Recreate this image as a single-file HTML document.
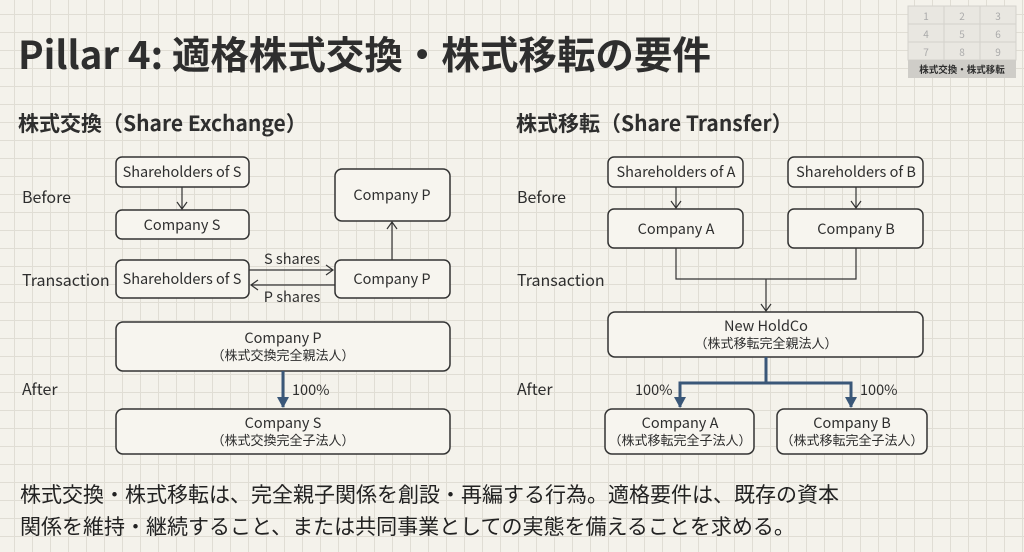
<!DOCTYPE html>
<html><head><meta charset="utf-8"><style>
html,body{margin:0;padding:0}
body{width:1024px;height:552px;overflow:hidden;background-color:#f4f2eb;
background-image:linear-gradient(#e0ddd4 1px,transparent 1px),linear-gradient(90deg,#e0ddd4 1px,transparent 1px);
background-size:18px 18px;background-position:-4px -4px;font-family:"Liberation Sans","Noto Sans CJK JP",sans-serif}
svg{position:absolute;left:0;top:0}
text{font-family:"Noto Sans CJK JP","Liberation Sans",sans-serif;fill:#2e2e2e}
.b rect{fill:#f7f5ef;stroke:#333;stroke-width:1.5}
.n{font-size:14.5px;text-anchor:middle}
.l{font-size:16px}
</style></head><body>
<svg width="1024" height="552" viewBox="0 0 1024 552">
<defs>
<marker id="a" markerWidth="12" markerHeight="12" refX="9" refY="6" orient="auto" markerUnits="userSpaceOnUse"><path d="M2,1 L9,6 L2,11" fill="none" stroke="#333" stroke-width="1.2"/></marker>
<marker id="t" markerWidth="12" markerHeight="12" refX="10" refY="6" orient="auto" markerUnits="userSpaceOnUse"><path d="M0,0 L11,6 L0,12 z" fill="#3a5778"/></marker>
</defs>
<rect x="908" y="6" width="108" height="54" fill="#e9e7e1" stroke="#d4d2cc"/>
<path d="M944 6V60M980 6V60M908 24H1016M908 42H1016" stroke="#d4d2cc"/>
<rect x="908" y="60" width="108" height="18" fill="#cfcdc8"/>
<g font-size="10" text-anchor="middle"><text x="926" y="20" style="fill:#aaa">1</text><text x="962" y="20" style="fill:#aaa">2</text><text x="998" y="20" style="fill:#aaa">3</text><text x="926" y="38" style="fill:#aaa">4</text><text x="962" y="38" style="fill:#aaa">5</text><text x="998" y="38" style="fill:#aaa">6</text><text x="926" y="56" style="fill:#aaa">7</text><text x="962" y="56" style="fill:#aaa">8</text><text x="998" y="56" style="fill:#aaa">9</text></g>
<text x="962" y="73" font-size="9.5" font-weight="bold" text-anchor="middle">株式交換・株式移転</text>

<text x="18" y="69" font-size="38.5" font-weight="bold">Pillar 4: 適格株式交換・株式移転の要件</text>
<text x="18" y="131" font-size="21" font-weight="bold">株式交換（Share Exchange）</text>
<text x="516" y="131" font-size="21" font-weight="bold">株式移転（Share Transfer）</text>

<g class="l"><text x="22" y="203">Before</text><text x="22" y="286">Transaction</text><text x="22" y="395">After</text>
<text x="517" y="203">Before</text><text x="517" y="286">Transaction</text><text x="517" y="395">After</text></g>

<g class="b">
<rect x="116" y="157" width="133" height="30" rx="6"/>
<rect x="116" y="210" width="133" height="29" rx="6"/>
<rect x="335" y="169" width="115" height="52" rx="7"/>
<rect x="116" y="260" width="133" height="38" rx="6"/>
<rect x="335" y="260" width="115" height="38" rx="6"/>
<rect x="116" y="322" width="334" height="49" rx="7"/>
<rect x="116" y="409" width="334" height="45" rx="7"/>
<rect x="608" y="157" width="135" height="30" rx="6"/>
<rect x="788" y="157" width="135" height="30" rx="6"/>
<rect x="608" y="209" width="135" height="39" rx="6"/>
<rect x="788" y="209" width="135" height="39" rx="6"/>
<rect x="608" y="312" width="315" height="45" rx="7"/>
<rect x="605" y="409" width="149" height="45" rx="7"/>
<rect x="777" y="409" width="150" height="45" rx="7"/>
</g>
<g class="n">
<text x="182" y="177">Shareholders of S</text>
<text x="182" y="230">Company S</text>
<text x="392" y="200">Company P</text>
<text x="182" y="284">Shareholders of S</text>
<text x="392" y="284">Company P</text>
<text x="283" y="343">Company P</text>
<text x="283" y="360" font-size="13">（株式交換完全親法人）</text>
<text x="283" y="428">Company S</text>
<text x="283" y="445" font-size="13">（株式交換完全子法人）</text>
<text x="676" y="177">Shareholders of A</text>
<text x="856" y="177">Shareholders of B</text>
<text x="676" y="234">Company A</text>
<text x="856" y="234">Company B</text>
<text x="766" y="331">New HoldCo</text>
<text x="766" y="348" font-size="13">（株式移転完全親法人）</text>
<text x="680" y="428">Company A</text>
<text x="680" y="445" font-size="13">（株式移転完全子法人）</text>
<text x="852" y="428">Company B</text>
<text x="852" y="445" font-size="13">（株式移転完全子法人）</text>
<text x="292" y="264">S shares</text>
<text x="292" y="302">P shares</text>
</g>
<g fill="none" stroke="#333" stroke-width="1.2">
<path d="M182 187V209" marker-end="url(#a)"/>
<path d="M392 260V222" marker-end="url(#a)"/>
<path d="M249 270H333" marker-end="url(#a)"/>
<path d="M335 285H251" marker-end="url(#a)"/>
<path d="M676 187V208" marker-end="url(#a)"/>
<path d="M856 187V208" marker-end="url(#a)"/>
<path d="M676 248V279H856V248M766 279V311" marker-end="url(#a)"/>
</g>
<g fill="none" stroke="#3a5778" stroke-width="3">
<path d="M283 371V407" marker-end="url(#t)"/>
<path d="M766 357V383H680V407" marker-end="url(#t)"/>
<path d="M766 383H851V407" marker-end="url(#t)"/>
</g>
<g font-size="14.5"><text x="292" y="395">100%</text><text x="635" y="395">100%</text><text x="860" y="395">100%</text></g>
<text x="20" y="502" font-size="21" style="fill:#222">株式交換・株式移転は、完全親子関係を創設・再編する行為。適格要件は、既存の資本</text>
<text x="20" y="534" font-size="21" style="fill:#222">関係を維持・継続すること、または共同事業としての実態を備えることを求める。</text>
</svg>
</body></html>
